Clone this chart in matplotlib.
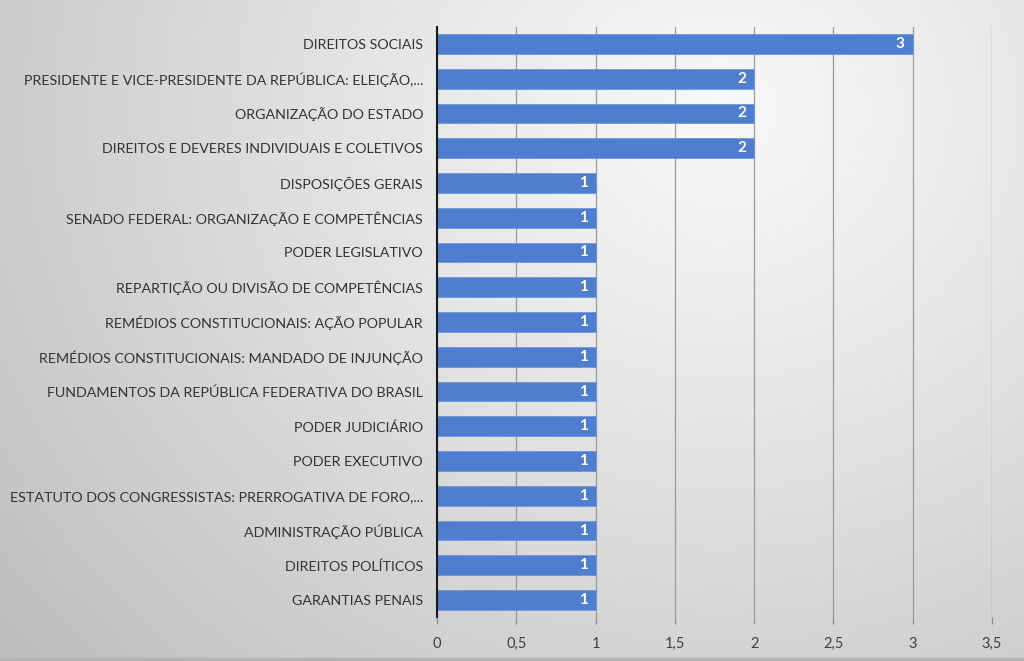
import numpy as np
import matplotlib
matplotlib.use("Agg")
import matplotlib.pyplot as plt

categories = [
    "DIREITOS SOCIAIS",
    "PRESIDENTE E VICE-PRESIDENTE DA REPÚBLICA: ELEIÇÃO,...",
    "ORGANIZAÇÃO DO ESTADO",
    "DIREITOS E DEVERES INDIVIDUAIS E COLETIVOS",
    "DISPOSIÇÕES GERAIS",
    "SENADO FEDERAL: ORGANIZAÇÃO E COMPETÊNCIAS",
    "PODER LEGISLATIVO",
    "REPARTIÇÃO OU DIVISÃO DE COMPETÊNCIAS",
    "REMÉDIOS CONSTITUCIONAIS: AÇÃO POPULAR",
    "REMÉDIOS CONSTITUCIONAIS: MANDADO DE INJUNÇÃO",
    "FUNDAMENTOS DA REPÚBLICA FEDERATIVA DO BRASIL",
    "PODER JUDICIÁRIO",
    "PODER EXECUTIVO",
    "ESTATUTO DOS CONGRESSISTAS: PRERROGATIVA DE FORO,...",
    "ADMINISTRAÇÃO PÚBLICA",
    "DIREITOS POLÍTICOS",
    "GARANTIAS PENAIS",
]
values = [3, 2, 2, 2, 1, 1, 1, 1, 1, 1, 1, 1, 1, 1, 1, 1, 1]
xticks = [0, 0.5, 1, 1.5, 2, 2.5, 3, 3.5]
xticklabels = ["0", "0,5", "1", "1,5", "2", "2,5", "3", "3,5"]

W, H = 1024, 661
fig = plt.figure(figsize=(W / 100, H / 100), dpi=100)

# radial gradient background
bg = fig.add_axes([0, 0, 1, 1])
yy, xx = np.mgrid[0:H, 0:W]
cx, cy = 720, 110
r = np.sqrt(((xx - cx) / 1.0) ** 2 + ((yy - cy) / 0.9) ** 2)
r = r / r.max()
light = np.array([0.975, 0.975, 0.975])
dark = np.array([0.74, 0.74, 0.74])
t = np.clip(r, 0, 1) ** 1.1
img = light[None, None, :] * (1 - t[..., None]) + dark[None, None, :] * t[..., None]
bg.imshow(img, extent=[0, 1, 0, 1], aspect="auto", origin="upper")
bg.axis("off")
bg.axhspan(0, 0.004, color="#b4b4b4", zorder=2)
bg.set_xlim(0, 1)
bg.set_ylim(0, 1)

ax = fig.add_axes([437 / W, 1 - 617.4 / H, (992 - 437) / W, (617.4 - 26.6) / H])
ax.patch.set_alpha(0)

n = len(categories)
y = np.arange(n)
ax.barh(y, values, height=0.57, color="#4f7ecf", edgecolor="#6f97db",
        linewidth=0.6, zorder=3)
ax.set_ylim(n - 0.5, -0.5)
ax.set_xlim(0, 3.5)
ax.set_yticks(y)
ax.set_yticklabels(categories, fontsize=10.3, color="#333333", fontfamily="Lato")
ax.set_xticks(xticks)
ax.set_xticklabels(xticklabels, fontsize=10.5, color="#404040", fontfamily="Lato")
ax.tick_params(axis="y", length=0, pad=10)
ax.tick_params(axis="x", length=5, width=0.9, color="#8c8c8c", pad=9)
ax.grid(axis="x", color="#9a9a9a", linewidth=0.9, zorder=1)
ax.set_axisbelow(True)
for s in ["top", "right", "bottom"]:
    ax.spines[s].set_visible(False)
ax.spines["left"].set_color("#1a1a1a")
ax.spines["left"].set_linewidth(1.5)
ax.spines["left"].set_zorder(4)

for yi, v in zip(y, values):
    ax.text(v - 0.05, yi, str(v), ha="right", va="center", color="white",
            fontsize=11, fontweight="bold", fontfamily="Lato", zorder=5)

fig.savefig("out.png", dpi=100)
